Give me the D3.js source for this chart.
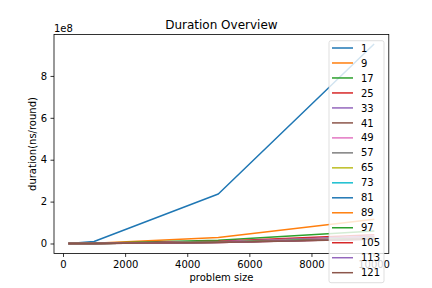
<!DOCTYPE html>
<html>
<head>
<meta charset="utf-8">
<script src="https://cdn.jsdelivr.net/npm/d3@7"></script>
<style>
html,body{margin:0;padding:0;background:#fff;}
svg{display:block;font-family:"DejaVu Sans",sans-serif;}
</style>
</head>
<body>
<svg id="chart" width="432" height="288"></svg>
<script>
const problemSizes = [200, 1000, 5000, 10000];
const seriesLabels = ["1","9","17","25","33","41","49","57","65","73","81","89","97","105","113","121"];
const durations = [
  [380000, 9500000, 236000000, 950000000],
  [46000, 1150000, 29000000, 115000000],
  [24000, 600000, 15000000, 60000000],
  [17000, 420000, 10500000, 42000000],
  [14000, 350000, 8800000, 35000000],
  [12000, 300000, 7500000, 30000000],
  [11000, 280000, 7000000, 28000000],
  [10400, 260000, 6500000, 26000000],
  [10000, 250000, 6200000, 25000000],
  [9600, 240000, 6000000, 24000000],
  [9200, 230000, 5800000, 23000000],
  [8800, 220000, 5600000, 22000000],
  [8800, 220000, 5500000, 22000000],
  [8400, 210000, 5300000, 21000000],
  [8400, 210000, 5200000, 21000000],
  [8000, 200000, 5000000, 20000000]
];
const xTickValues = [0, 2000, 4000, 6000, 8000, 10000];
const yTickValues = [0, 200000000, 400000000, 600000000, 800000000];
const colors = ["#1f77b4","#ff7f0e","#2ca02c","#d62728","#9467bd","#8c564b","#e377c2","#7f7f7f","#bcbd22","#17becf"];

const svg = d3.select("#chart");
const L = 54, R = 388.8, T = 34.56, B = 253.44;

const xmin = d3.min(problemSizes), xmax = d3.max(problemSizes);
const xpad = (xmax - xmin) * 0.05;
const x = d3.scaleLinear().domain([xmin - xpad, xmax + xpad]).range([L, R]);
const allY = durations.flat();
const ymin = d3.min(allY), ymax = d3.max(allY);
const ypad = (ymax - ymin) * 0.05;
const y = d3.scaleLinear().domain([ymin - ypad, ymax + ypad]).range([B, T]);

// lines
const line = d3.line().x((d, i) => x(problemSizes[i])).y(d => y(d));
const plot = svg.append("g");
durations.forEach((s, k) => {
  plot.append("path").datum(s).attr("d", line)
    .attr("fill", "none").attr("stroke", colors[k % 10])
    .attr("stroke-width", 1.5).attr("stroke-linecap", "square").attr("stroke-linejoin", "round");
});

// axes
const xAxis = d3.axisBottom(x).tickValues(xTickValues).tickSize(3.5).tickPadding(3.5).tickFormat(d3.format("d"));
const gx = svg.append("g").attr("transform", `translate(0,${B})`).call(xAxis);
const yAxis = d3.axisLeft(y).tickValues(yTickValues).tickSize(3.5).tickPadding(3.5).tickFormat(d => d / 1e8);
const gy = svg.append("g").attr("transform", `translate(${L},0)`).call(yAxis);
[gx, gy].forEach(g => {
  g.select(".domain").remove();
  g.selectAll(".tick line").attr("stroke", "#000").attr("stroke-width", 0.8);
  g.selectAll(".tick text").attr("fill", "#000").style("font-size", "10px").style("font-family", "DejaVu Sans");
});

// frame
svg.append("rect").attr("x", L).attr("y", T).attr("width", R - L).attr("height", B - T)
  .attr("fill", "none").attr("stroke", "#000").attr("stroke-width", 0.8);

// texts
svg.append("text").attr("x", (L + R) / 2).attr("y", 28.5).attr("text-anchor", "middle")
  .style("font-size", "12px").text("Duration Overview");
svg.append("text").attr("x", L).attr("y", 31.5).style("font-size", "10px").text("1e8");
svg.append("text").attr("x", (L + R) / 2).attr("y", 281).attr("text-anchor", "middle")
  .style("font-size", "10px").text("problem size");
svg.append("text").attr("transform", `translate(35.5,${(T + B) / 2}) rotate(-90)`).attr("text-anchor", "middle")
  .style("font-size", "10px").text("duration(ns/round)");

// legend
const lg = svg.append("g");
const lx = 329, ly = 40.7, lw = 55, lh = 242;
lg.append("rect").attr("x", lx).attr("y", ly).attr("width", lw).attr("height", lh)
  .attr("rx", 2).attr("fill", "#fff").attr("fill-opacity", 0.8)
  .attr("stroke", "#cccccc").attr("stroke-opacity", 0.8).attr("stroke-width", 0.8);
seriesLabels.forEach((lab, k) => {
  const cy = 48 + k * 14.98;
  lg.append("line").attr("x1", 332).attr("x2", 353).attr("y1", cy).attr("y2", cy)
    .attr("stroke", colors[k % 10]).attr("stroke-width", 1.5);
  lg.append("text").attr("x", 361).attr("y", cy + 3.6).style("font-size", "10px").text(lab);
});
</script>
</body>
</html>
